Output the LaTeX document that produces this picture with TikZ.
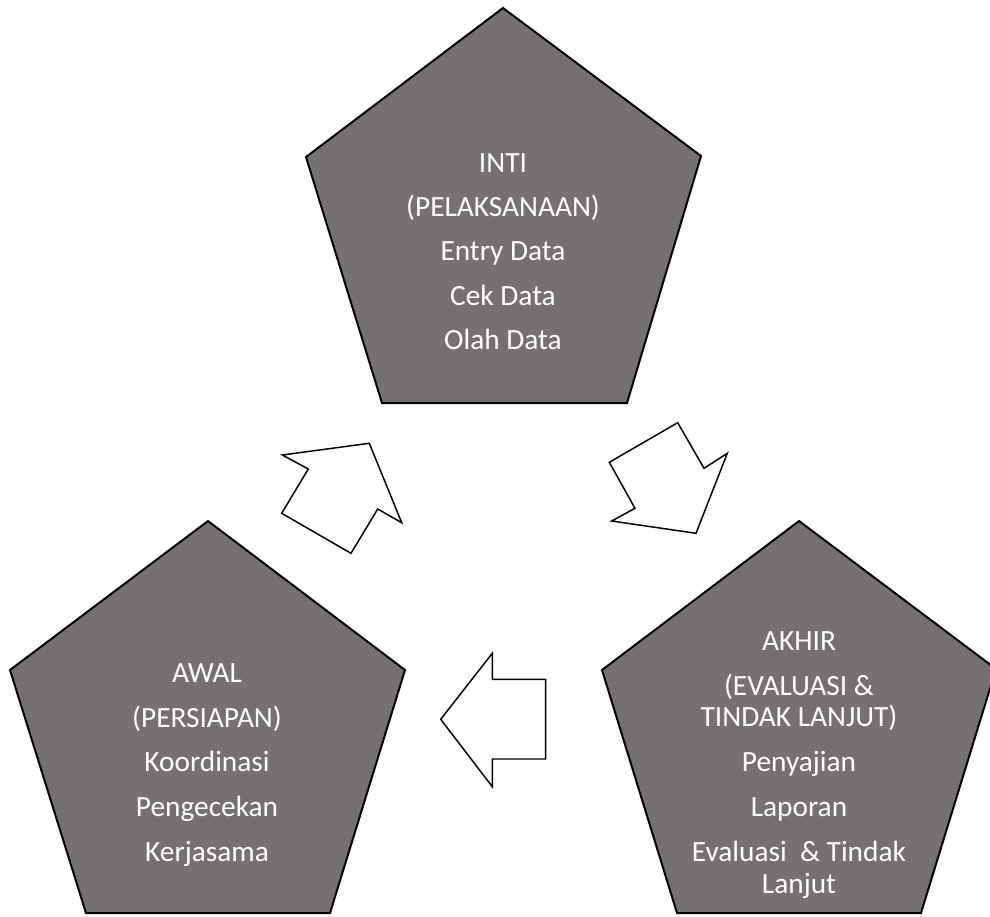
\documentclass[tikz,border=0pt]{standalone}
\usepackage{fontspec}
\setmainfont{Carlito}
\definecolor{penta}{RGB}{118,113,113}
\tikzset{
  pentabox/.style={fill=penta, draw=black, line width=1.5pt, line join=miter},
  bigarrow/.style={fill=white, draw=black, line width=1.1pt, line join=miter},
  lbl/.style={text=white, anchor=base, inner sep=0pt, font=\fontsize{22}{26}\selectfont}
}
\begin{document}
\begin{tikzpicture}[x=0.75pt, y=-0.75pt]
\useasboundingbox (0,0) rectangle (990,917);
\clip (0,0) rectangle (990,917);
% pentagons
\draw[pentabox] (503,8) -- (701,156) -- (627,403) -- (382,403) -- (306,157) -- cycle;
\draw[pentabox] (208,521) -- (405,670) -- (330,913) -- (86,913) -- (10,670) -- cycle;
\draw[pentabox] (799,521) -- (996,669) -- (921,913) -- (677,913) -- (602,670) -- cycle;
% arrows
\draw[bigarrow] (369.3,443.3) -- (401.7,522.7) -- (377.7,509) -- (351,553.3) -- (281.7,513.3) -- (308.3,469) -- (282.3,455) -- cycle;
\draw[bigarrow] (696,533.3) -- (611.7,521) -- (635,508.3) -- (609.3,462.3) -- (677.7,422.7) -- (704,468.3) -- (727.3,453.3) -- cycle;
\draw[bigarrow] (440.7,719.3) -- (492.3,653.3) -- (492.3,679.3) -- (545.7,679.3) -- (545.7,759) -- (492.3,759) -- (492.3,786.7) -- cycle;
% top texts
\node[lbl] (t1) at (503,172) {INTI};
\node[lbl] (t2) at (503,216.5) {(PELAKSANAAN)};
\node[lbl] (t3) at (503,260.5) {Entry Data};
\node[lbl] (t4) at (503,305) {Cek Data};
\node[lbl] (t5) at (503,349) {Olah Data};
% left texts
\node[lbl] (l1) at (207,682.5) {AWAL};
\node[lbl] (l2) at (207,727) {(PERSIAPAN)};
\node[lbl] (l3) at (207,771.7) {Koordinasi};
\node[lbl] (l4) at (207,816.7) {Pengecekan};
\node[lbl] (l5) at (207,861.7) {Kerjasama};
% right texts
\node[lbl] (r1) at (799,650.7) {AKHIR};
\node[lbl] (r2) at (799,695) {(EVALUASI \&};
\node[lbl] (r3) at (799,726.7) {TINDAK LANJUT)};
\node[lbl] (r4) at (799,771.7) {Penyajian};
\node[lbl] (r5) at (799,816.7) {Laporan};
\node[lbl] (r6) at (799,861.7) {Evaluasi~ \& Tindak};
\node[lbl] (r7) at (799,893.3) {Lanjut};
\end{tikzpicture}
\end{document}
